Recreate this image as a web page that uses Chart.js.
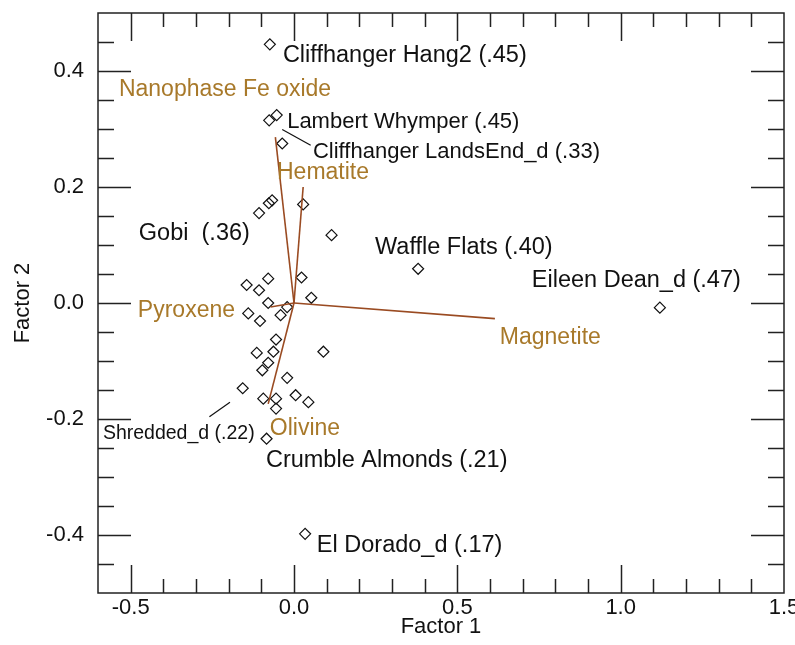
<!DOCTYPE html>
<html>
<head>
<meta charset="utf-8">
<script src="https://cdn.jsdelivr.net/npm/chart.js@4/dist/chart.umd.min.js"></script>
<style>
html, body { margin:0; padding:0; background:#fff; }
#wrap { position:relative; width:795px; height:645px; }
</style>
</head>
<body>
<div id="wrap"><canvas id="chart"></canvas></div>
<script>
// sample scores (Factor 1, Factor 2)
var pointX = [-0.074, -0.076, -0.053, -0.036, -0.107, -0.077, -0.067, 0.028, 0.115, 0.380, 1.120,
	-0.079, 0.023, -0.145, -0.107, 0.053, -0.079, -0.021, -0.140, -0.104, -0.041, -0.055, -0.114,
	-0.063, 0.090, -0.079, -0.097, -0.021, -0.157, 0.005, 0.044, -0.094, -0.055, -0.055, -0.084, 0.034];
var pointY = [0.446, 0.315, 0.324, 0.275, 0.155, 0.172, 0.177, 0.170, 0.117, 0.059, -0.008,
	0.042, 0.044, 0.031, 0.022, 0.009, 0.000, -0.007, -0.018, -0.031, -0.021, -0.063, -0.086,
	-0.084, -0.084, -0.103, -0.116, -0.129, -0.147, -0.159, -0.171, -0.165, -0.165, -0.182, -0.234, -0.398];

// mineral loadings
var vectorNames = ['Nanophase Fe oxide', 'Hematite', 'Magnetite', 'Pyroxene', 'Olivine'];
var vectorX = [-0.057, 0.028, 0.615, -0.072, -0.079];
var vectorY = [0.286, 0.200, -0.027, -0.007, -0.174];
var vectorLabelX = [-0.536, -0.052, 0.630, -0.478, -0.074];
var vectorLabelY = [0.367, 0.224, -0.059, -0.013, -0.216];

// named targets
var siteNames = ['Cliffhanger Hang2 (.45)', 'Lambert Whymper (.45)', 'Cliffhanger LandsEnd_d (.33)', 'Gobi  (.36)',
	'Waffle Flats (.40)', 'Eileen Dean_d (.47)', 'Shredded_d (.22)', 'Crumble Almonds (.21)', 'El Dorado_d (.17)'];
var siteLabelX = [-0.034, -0.021, 0.058, -0.475, 0.248, 0.728, -0.585, -0.086, 0.070];
var siteLabelY = [0.427, 0.313, 0.260, 0.120, 0.096, 0.039, -0.225, -0.271, -0.418];
var siteFontSize = [23.5, 22, 22, 23.5, 23.5, 23.5, 19.5, 23.5, 23.5];

var leaderFromX = [-0.036, -0.259];
var leaderFromY = [0.299, -0.196];
var leaderToX = [0.051, -0.196];
var leaderToY = [0.272, -0.171];

var xTicks = [-0.5, 0.0, 0.5, 1.0, 1.5];
var yTicks = [-0.4, -0.2, 0.0, 0.2, 0.4];

var FONT = '"Liberation Sans", Arial, Helvetica, sans-serif';
var LINE_BROWN = '#9a4b22';
var TEXT_BROWN = '#a8792a';

var datasets = [];

for (var i = 0; i < vectorNames.length; i++)
{
	datasets.push({
		label: vectorNames[i],
		data: [{x: 0, y: 0}, {x: vectorX[i], y: vectorY[i]}],
		showLine: true,
		borderColor: LINE_BROWN,
		borderWidth: 1.6,
		pointRadius: 0
	});
}

for (var i = 0; i < leaderFromX.length; i++)
{
	datasets.push({
		data: [{x: leaderFromX[i], y: leaderFromY[i]}, {x: leaderToX[i], y: leaderToY[i]}],
		showLine: true,
		borderColor: '#111',
		borderWidth: 1.2,
		pointRadius: 0
	});
}

datasets.push({
	label: 'samples',
	data: pointX.map(function(x, i) { return {x: x, y: pointY[i]}; }),
	pointStyle: 'rectRot',
	pointRadius: 5.5,
	borderColor: '#111',
	borderWidth: 1.2,
	backgroundColor: 'rgba(0,0,0,0)'
});

// text labels placed in data units
var labelPlugin = {
	id: 'labels',
	afterDatasetsDraw: function(chart)
	{
		var ctx = chart.ctx, xs = chart.scales.x, ys = chart.scales.y;
		ctx.save();
		ctx.textAlign = 'left';
		ctx.textBaseline = 'middle';
		ctx.fillStyle = '#111';
		for (var i = 0; i < siteNames.length; i++)
		{
			ctx.font = siteFontSize[i] + 'px ' + FONT;
			ctx.fillText(siteNames[i], xs.getPixelForValue(siteLabelX[i]), ys.getPixelForValue(siteLabelY[i]));
		}
		ctx.fillStyle = TEXT_BROWN;
		ctx.font = '23px ' + FONT;
		for (var i = 0; i < vectorNames.length; i++)
			ctx.fillText(vectorNames[i], xs.getPixelForValue(vectorLabelX[i]), ys.getPixelForValue(vectorLabelY[i]));
		ctx.restore();
	}
};

// box with inward ticks on all four sides
var framePlugin = {
	id: 'frame',
	afterDraw: function(chart)
	{
		var ctx = chart.ctx, a = chart.chartArea, xs = chart.scales.x, ys = chart.scales.y;
		ctx.save();
		ctx.strokeStyle = '#222';
		ctx.lineWidth = 1.5;
		ctx.strokeRect(a.left, a.top, a.right - a.left, a.bottom - a.top);
		ctx.beginPath();
		for (var i = -5; i < 15; i++)
		{
			var px = Math.round(xs.getPixelForValue(i / 10)) + 0.5;
			var len = (i % 5 === 0) ? 28 : 14;
			ctx.moveTo(px, a.bottom); ctx.lineTo(px, a.bottom - len);
			ctx.moveTo(px, a.top); ctx.lineTo(px, a.top + len);
		}
		for (var j = -9; j < 10; j++)
		{
			var py = Math.round(ys.getPixelForValue(j / 20)) + 0.5;
			var len = (j % 4 === 0) ? 33 : 16;
			ctx.moveTo(a.left, py); ctx.lineTo(a.left + len, py);
			ctx.moveTo(a.right, py); ctx.lineTo(a.right - len, py);
		}
		ctx.stroke();
		ctx.restore();
	}
};

new Chart(document.getElementById('chart'), {
	type: 'scatter',
	data: { datasets: datasets },
	options: {
		responsive: true,
		maintainAspectRatio: false,
		animation: false,
		layout: { padding: { top: 13, right: 11, left: 0, bottom: 0 } },
		plugins: { legend: { display: false }, tooltip: { enabled: false } },
		scales: {
			x: {
				type: 'linear',
				position: 'bottom',
				min: -0.6,
				max: 1.5,
				grid: { display: false, drawTicks: false },
				border: { display: false },
				afterBuildTicks: function(s) { s.ticks = xTicks.map(function(v) { return {value: v}; }); },
				afterFit: function(s) { s.height = 52; s.paddingLeft = 0; s.paddingRight = 0; },
				ticks: {
					autoSkip: false, maxRotation: 0, padding: 2, color: '#111',
					font: { family: FONT, size: 22 },
					callback: function(v) { return Number(v).toFixed(1); }
				},
				title: { display: true, text: 'Factor 1', color: '#111', font: { family: FONT, size: 22 }, padding: { top: 0, bottom: 5 } }
			},
			y: {
				type: 'linear',
				position: 'left',
				min: -0.5,
				max: 0.5,
				grid: { display: false, drawTicks: false },
				border: { display: false },
				afterBuildTicks: function(s) { s.ticks = yTicks.map(function(v) { return {value: v}; }); },
				afterFit: function(s) { s.width = 98; s.paddingTop = 0; s.paddingBottom = 0; },
				ticks: {
					autoSkip: false, padding: 14, color: '#111',
					font: { family: FONT, size: 22 },
					callback: function(v) { return Number(v).toFixed(1); }
				},
				title: { display: true, text: 'Factor 2', color: '#111', font: { family: FONT, size: 22 }, padding: { top: 10, bottom: 0 } }
			}
		}
	},
	plugins: [labelPlugin, framePlugin]
});
</script>
</body>
</html>
